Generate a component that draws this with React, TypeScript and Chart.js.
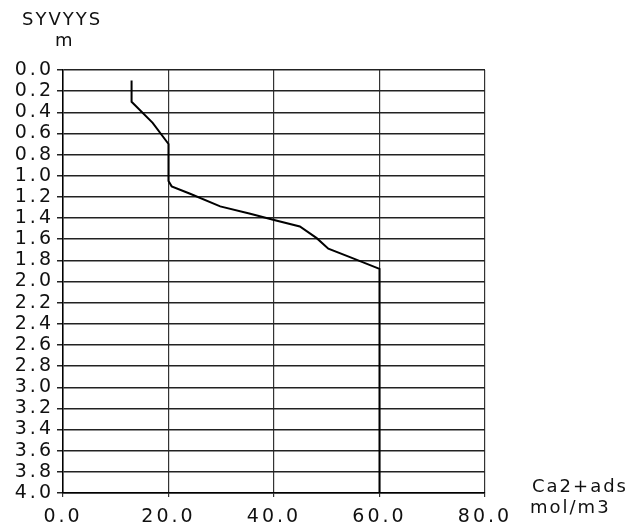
import React, { useEffect, useRef } from "react";
import { Chart, registerables } from "chart.js";

Chart.register(...registerables);

// Data
const concentration = [13, 13, 17, 20, 20, 20.6, 24.1, 29.8, 35.5, 40.2, 44.9, 48.1, 50.3, 54.4, 60, 60];
const depth = [0.1, 0.3, 0.5, 0.7, 1.05, 1.1, 1.17, 1.29, 1.36, 1.42, 1.48, 1.59, 1.69, 1.77, 1.88, 4.0];

const xMin = 0;
const xMax = 80;
const xStep = 20;
const yMin = 0;
const yMax = 4;
const yStep = 0.2;

const topTitle = "SYVYYS";
const topUnit = "m";
const xTitle = "Ca2+ads";
const xUnit = "mol/m3";

const FONT = "'DejaVu Sans', sans-serif";
const INK = "#111";

const textPlugin = {
  id: "plotterText",
  beforeDraw(chart: any) {
    const ctx = chart.ctx;
    try { (ctx as any).letterSpacing = "3px"; } catch (e) {}
  },
  afterDraw(chart: any) {
    const ctx = chart.ctx;
    const area = chart.chartArea;
    ctx.save();
    try { (ctx as any).letterSpacing = "2px"; } catch (e) {}
    ctx.fillStyle = INK;
    ctx.font = `18px ${FONT}`;
    ctx.textBaseline = "alphabetic";
    ctx.textAlign = "left";
    ctx.fillText(topTitle, 22, 25);
    ctx.fillText(topUnit, 55, 46);
    ctx.fillText(xTitle, area.right + 47, area.bottom - 1);
    ctx.fillText(xUnit, area.right + 45, area.bottom + 20);
    ctx.restore();
  },
};

export default function App() {
  const ref = useRef<HTMLCanvasElement | null>(null);

  useEffect(() => {
    if (!ref.current) return;
    const points = concentration.map((c, i) => ({ x: c, y: depth[i] }));
    const chart = new Chart(ref.current, {
      type: "line",
      data: {
        datasets: [
          {
            data: points,
            borderColor: "#000",
            borderWidth: 2,
            pointRadius: 0,
            tension: 0,
            fill: false,
          },
        ],
      },
      options: {
        responsive: false,
        animation: false,
        devicePixelRatio: 1,
        layout: { padding: { left: 0, top: 70, right: 151, bottom: 0 } },
        plugins: {
          legend: { display: false },
          tooltip: { enabled: false },
          title: { display: false },
        },
        scales: {
          x: {
            type: "linear",
            min: xMin,
            max: xMax,
            ticks: {
              stepSize: xStep,
              color: INK,
              font: { family: FONT, size: 19 },
              padding: 9,
              maxRotation: 0,
              callback: (v: any) => Number(v).toFixed(1),
            },
            grid: { color: "#333", lineWidth: 1.2, tickLength: 4 },
            border: { display: true, color: "#000", width: 1.5 },
            afterFit: (s: any) => { s.height = 37; },
          },
          y: {
            type: "linear",
            min: yMin,
            max: yMax,
            reverse: true,
            ticks: {
              stepSize: yStep,
              color: INK,
              font: { family: FONT, size: 19 },
              padding: 3,
              autoSkip: false,
              callback: (v: any) => Number(v).toFixed(1),
            },
            grid: { color: "#222", lineWidth: 1.5, tickLength: 6 },
            border: { display: true, color: "#000", width: 1.5 },
            afterFit: (s: any) => { s.width = 63; },
          },
        },
      },
      plugins: [textPlugin],
    });
    return () => chart.destroy();
  }, []);

  return (
    <div style={{ position: "fixed", left: 0, top: 0, width: 636, height: 530, background: "#fff" }}>
      <canvas ref={ref} width={636} height={530} style={{ display: "block" }} />
    </div>
  );
}
